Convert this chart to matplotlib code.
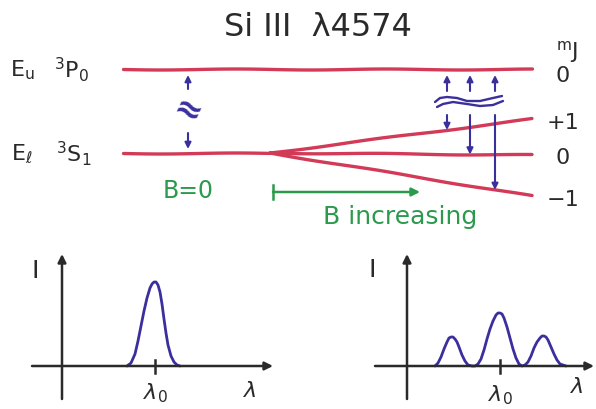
import matplotlib.pyplot as plt

# diagram units: pixel-like coordinates of the sketch (y grows downward)
level_x_start = 123
level_x_end = 532
split_x = 270
upper_y = 70
lower_y = 154
sub_end_y = [120, 156, 197]          # mJ = +1, 0, -1 at B > 0
mj_labels = ["+1", "0", "\u22121"]
mj_label_y = [123, 158, 200]

# transitions at the right (x positions)
trans_x = [447, 470, 495]

# wavy break symbol (two lines)
wave_top_x = [435, 440, 447, 457, 467, 480, 493, 502]
wave_top_y = [103, 99, 98, 99, 102, 102, 99, 97]
wave_bot_x = [437, 443, 453, 467, 480, 493, 503]
wave_bot_y = [108, 105, 103, 105, 107, 106, 102]

# spectra (baseline at y = 367)
base_y = 367
left_x = [127, 131, 135, 138, 141, 144, 147, 150, 152, 154, 156, 158, 160,
          162, 164, 166, 168, 171, 174, 177, 180]
left_h = [0, 3, 12, 25, 40, 55, 68, 78, 82, 84, 84, 81, 74,
          62, 47, 33, 21, 10, 4, 1, 0]

right_x = [435, 438, 441, 444, 447, 449, 451, 453, 455, 457, 459, 462, 465, 468, 472,
           475, 478, 481, 484, 487, 490, 493, 496, 498, 500, 502, 504, 507, 510,
           513, 516, 519, 522,
           525, 528, 531, 534, 537, 540, 542, 544, 546, 548, 551, 554, 557, 560, 563, 566]
right_h = [0, 3, 9, 17, 24, 28, 29, 29, 27, 24, 19, 11, 5, 1, 0,
           0, 2, 7, 16, 27, 37, 45, 51, 53, 53, 52, 48, 39, 28,
           17, 8, 2, 0,
           1, 4, 10, 18, 24, 28, 30, 30, 29, 26, 19, 12, 6, 2, 1, 0]

red = "#d23a58"
blue = "#3b2f9e"
green = "#2b9a4c"
ink = "#2a2a2a"

fig = plt.figure(figsize=(5.96, 4.10), dpi=100)
ax = fig.add_axes([0, 0, 1, 1])
ax.set_xlim(0, 596)
ax.set_ylim(410, 0)
ax.axis("off")


def line(xs, ys, color, lw, wobble=None):
    ln, = ax.plot(xs, ys, color=color, lw=lw, solid_capstyle="round",
                  solid_joinstyle="round")
    if wobble:
        ln.set_sketch_params(*wobble)
    return ln


def arrow(x0, y0, x1, y1, color, lw, ms):
    ax.annotate("", xy=(x1, y1), xytext=(x0, y0),
                arrowprops=dict(arrowstyle="-|>", color=color, lw=lw,
                                mutation_scale=ms, shrinkA=0, shrinkB=0))


# energy levels
hand = (0.5, 150, 1)
line([level_x_start, level_x_end], [upper_y, upper_y], red, 2.4, hand)
line([level_x_start, split_x], [lower_y, lower_y], red, 2.4, hand)
for ye in sub_end_y:
    line([split_x, level_x_end], [lower_y, ye], red, 2.4, hand)

# B = 0 gap arrows
arrow(188, 90, 188, 76, blue, 1.5, 9)
arrow(188, 134, 188, 150, blue, 1.5, 9)
ax.text(188, 112, "\u2248", color=blue, fontsize=24, fontweight="bold",
        ha="center", va="center", rotation=-25)

# Zeeman transitions
for x, ye in zip(trans_x, sub_end_y):
    arrow(x, 92, x, upper_y + 6, blue, 1.5, 9)
    y_end = lower_y + (ye - lower_y) * (x - split_x) / (level_x_end - split_x)
    arrow(x, 116, x, y_end, blue, 1.5, 9)
line(wave_top_x, wave_top_y, blue, 1.7)
line(wave_bot_x, wave_bot_y, blue, 1.7)

# texts
ax.text(318, 27, "Si III  \u03bb4574", color=ink, fontsize=23,
        ha="center", va="center")
ax.text(22, 70, r"E$_\mathregular{u}$", color=ink, fontsize=16, ha="center", va="center")
ax.text(72, 70, r"$^\mathregular{3}$P$_\mathregular{0}$", color=ink, fontsize=16,
        ha="center", va="center")
ax.text(22, 154, r"E$_\ell$", color=ink, fontsize=16, ha="center", va="center")
ax.text(74, 154, r"$^\mathregular{3}$S$_\mathregular{1}$", color=ink, fontsize=16,
        ha="center", va="center")
ax.text(567, 52, r"$^\mathregular{m}$J", color=ink, fontsize=16, ha="center", va="center")
ax.text(563, 76, "0", color=ink, fontsize=16, ha="center", va="center")
for lab, y in zip(mj_labels, mj_label_y):
    ax.text(563, y, lab, color=ink, fontsize=16, ha="center", va="center")

ax.text(188, 191, "B=0", color=green, fontsize=17, ha="center", va="center")
ax.plot([273, 273], [186, 200], color=green, lw=1.8)
arrow(273, 193, 420, 193, green, 1.8, 12)
ax.text(400, 217, "B increasing", color=green, fontsize=18, ha="center", va="center")

# left spectrum
arrow(62, 400, 62, 255, ink, 1.8, 12)
arrow(32, base_y, 273, base_y, ink, 1.8, 12)
ax.plot([155, 155], [361, 374], color=ink, lw=1.8)
line(left_x, [base_y - h for h in left_h], blue, 2.0)
ax.text(35, 271, "I", color=ink, fontsize=18, ha="center", va="center")
ax.text(155, 393, r"$\lambda_\mathregular{0}$", color=ink, fontsize=16, ha="center", va="center")
ax.text(250, 391, r"$\lambda$", color=ink, fontsize=16, ha="center", va="center")

# right spectrum
arrow(407, 400, 407, 255, ink, 1.8, 12)
arrow(375, base_y, 594, base_y, ink, 1.8, 12)
ax.plot([500, 500], [361, 374], color=ink, lw=1.8)
line(right_x, [base_y - h for h in right_h], blue, 2.0)
ax.text(372, 270, "I", color=ink, fontsize=18, ha="center", va="center")
ax.text(500, 395, r"$\lambda_\mathregular{0}$", color=ink, fontsize=16, ha="center", va="center")
ax.text(577, 387, r"$\lambda$", color=ink, fontsize=16, ha="center", va="center")

fig.savefig("out.png", dpi=100)
